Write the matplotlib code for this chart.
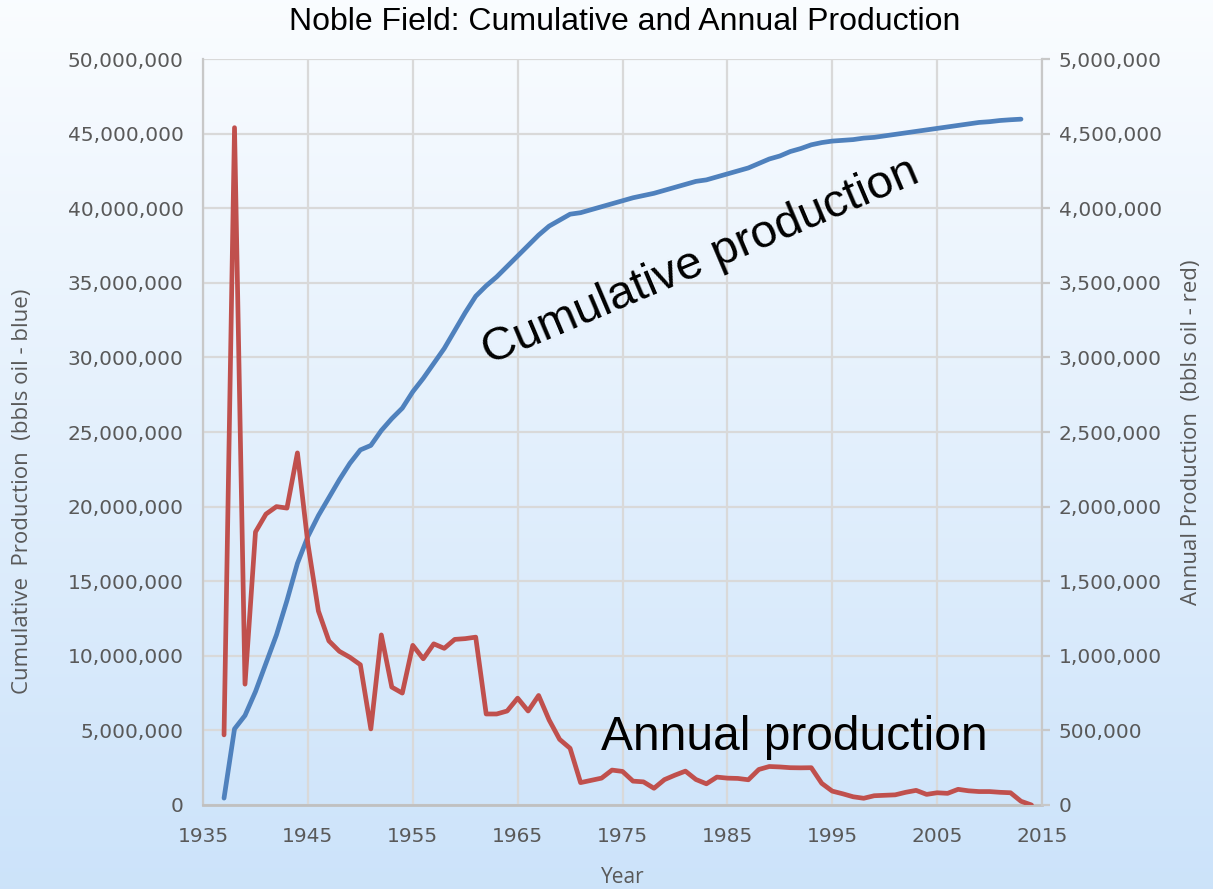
import numpy as np
import matplotlib
matplotlib.use("Agg")
import matplotlib.pyplot as plt
from matplotlib.ticker import FuncFormatter

# annual production (bbls), 1937-2014
annual_years = list(range(1937, 2015))
annual_bbls = [
    470e3, 4540e3, 810e3, 1830e3, 1950e3, 2000e3, 1990e3, 2360e3, 1750e3, 1300e3,
    1100e3, 1030e3, 990e3, 940e3, 510e3, 1140e3, 790e3, 750e3, 1070e3, 980e3,
    1080e3, 1050e3, 1110e3, 1115e3, 1125e3, 610e3, 610e3, 630e3, 716e3, 630e3,
    734e3, 570e3, 440e3, 380e3, 150e3, 165e3, 180e3, 234e3, 225e3, 160e3,
    155e3, 112e3, 170e3, 200e3, 227e3, 171e3, 142e3, 187e3, 180e3, 178e3,
    169e3, 238e3, 258e3, 255e3, 250e3, 249e3, 250e3, 145e3, 93e3, 75e3,
    55e3, 45e3, 62e3, 65e3, 68e3, 85e3, 98e3, 71e3, 82e3, 78e3,
    105e3, 95e3, 90e3, 90e3, 85e3, 82e3, 25e3, 0,
]

# cumulative production (million bbls), 1937-2013
cum_years = list(range(1937, 2014))
cum_mbbls = [
    0.46, 5.1, 6.0, 7.6, 9.5, 11.4, 13.7, 16.2, 18.0, 19.4,
    20.6, 21.8, 22.9, 23.8, 24.1, 25.1, 25.9, 26.6, 27.7, 28.6,
    29.6, 30.6, 31.8, 33.0, 34.1, 34.8, 35.4, 36.1, 36.8, 37.5,
    38.2, 38.8, 39.2, 39.6, 39.7, 39.9, 40.1, 40.3, 40.5, 40.7,
    40.85, 41.0, 41.2, 41.4, 41.6, 41.8, 41.9, 42.1, 42.3, 42.5,
    42.7, 43.0, 43.3, 43.5, 43.8, 44.0, 44.25, 44.4, 44.5, 44.55,
    44.6, 44.7, 44.75, 44.85, 44.95, 45.05, 45.15, 45.25, 45.35, 45.45,
    45.55, 45.65, 45.75, 45.8, 45.88, 45.93, 45.97,
]

year_ticks = list(range(1935, 2016, 10))

BLUE = "#4f81bd"
RED = "#c0504d"
GRAY = "#595959"
GRID = "#d9d9d9"
TICKFONT = ["DejaVu Sans"]
LABELFONT = ["Open Sans", "DejaVu Sans"]

fig = plt.figure(figsize=(12.13, 8.89), dpi=100)

# background gradient: near-white at top to light blue at bottom
bg = fig.add_axes([0, 0, 1, 1], zorder=-10)
grad = np.linspace(0, 1, 256).reshape(-1, 1)
top = np.array([0.98, 0.99, 1.0])
bot = np.array([0.80, 0.89, 0.98])
img = top + (bot - top) * grad[:, :, None]
bg.imshow(img, aspect="auto", extent=[0, 1, 0, 1])
bg.axis("off")

ax = fig.add_axes([0.1674, 0.0945, 0.6916, 0.8391])
ax.patch.set_alpha(0)
ax2 = ax.twinx()

ax.plot(cum_years, np.array(cum_mbbls) * 1e6, color=BLUE, lw=3.4,
        solid_capstyle="round", solid_joinstyle="round", zorder=3)
ax2.plot(annual_years, annual_bbls, color=RED, lw=3.4,
         solid_capstyle="round", solid_joinstyle="round", zorder=3)

ax.set_xlim(1935, 2015)
ax.set_ylim(0, 50e6)
ax2.set_ylim(0, 5e6)
ax.set_xticks(year_ticks)
ax.set_yticks(np.arange(0, 50e6 + 1, 5e6))
ax2.set_yticks(np.arange(0, 5e6 + 1, 5e5))

fmt = FuncFormatter(lambda v, p: f"{int(v):,}")
ax.yaxis.set_major_formatter(fmt)
ax2.yaxis.set_major_formatter(fmt)

ax.grid(True, color=GRID, lw=1.6)
ax.set_axisbelow(True)

for a in (ax, ax2):
    for s in a.spines.values():
        s.set_visible(False)
ax.spines["left"].set_visible(True)
ax.spines["left"].set_color("#c8c8c8")
ax.spines["left"].set_linewidth(1.6)
ax.spines["bottom"].set_visible(True)
ax.spines["bottom"].set_color("#c0c0c0")
ax.spines["bottom"].set_linewidth(2)
ax2.spines["right"].set_visible(True)
ax2.spines["right"].set_color("#c8c8c8")
ax2.spines["right"].set_linewidth(1.6)

ax.tick_params(axis="y", length=0, pad=14, labelsize=14.5, labelcolor=GRAY)
ax.tick_params(axis="x", length=0, pad=16, labelsize=14.5, labelcolor=GRAY)
ax2.tick_params(axis="y", length=6, width=1.6, color="#c8c8c8", pad=6,
                labelsize=14.5, labelcolor=GRAY)
for lab in ax.get_xticklabels() + ax.get_yticklabels() + ax2.get_yticklabels():
    lab.set_family(TICKFONT)

ax.set_xlabel("Year", fontsize=15, color=GRAY, family=LABELFONT)
ax.xaxis.set_label_coords(0.5, -0.083)
ax.set_ylabel("Cumulative  Production  (bbls oil - blue)", fontsize=16,
              color=GRAY, family=LABELFONT)
ax.yaxis.set_label_coords(-0.203, 0.42)
ax2.set_ylabel("Annual Production  (bbls oil - red)", fontsize=16,
               color=GRAY, family=LABELFONT)
ax2.yaxis.set_label_coords(1.166, 0.5)

fig.text(0.515, 0.975, "Noble Field: Cumulative and Annual Production",
         ha="center", va="center", fontsize=23,
         family=["Liberation Sans Narrow", "Liberation Sans", "DejaVu Sans"])

ax.text(1982.4, 36.4e6, "Cumulative production", rotation=23,
        rotation_mode="anchor", ha="center", va="center", fontsize=34,
        family=["Liberation Sans", "DejaVu Sans"], zorder=5)
ax.text(1991.4, 4.5e6, "Annual production", ha="center", va="center",
        fontsize=34.5, family=["Liberation Sans", "DejaVu Sans"], zorder=5)

fig.savefig("out.png", dpi=100)
